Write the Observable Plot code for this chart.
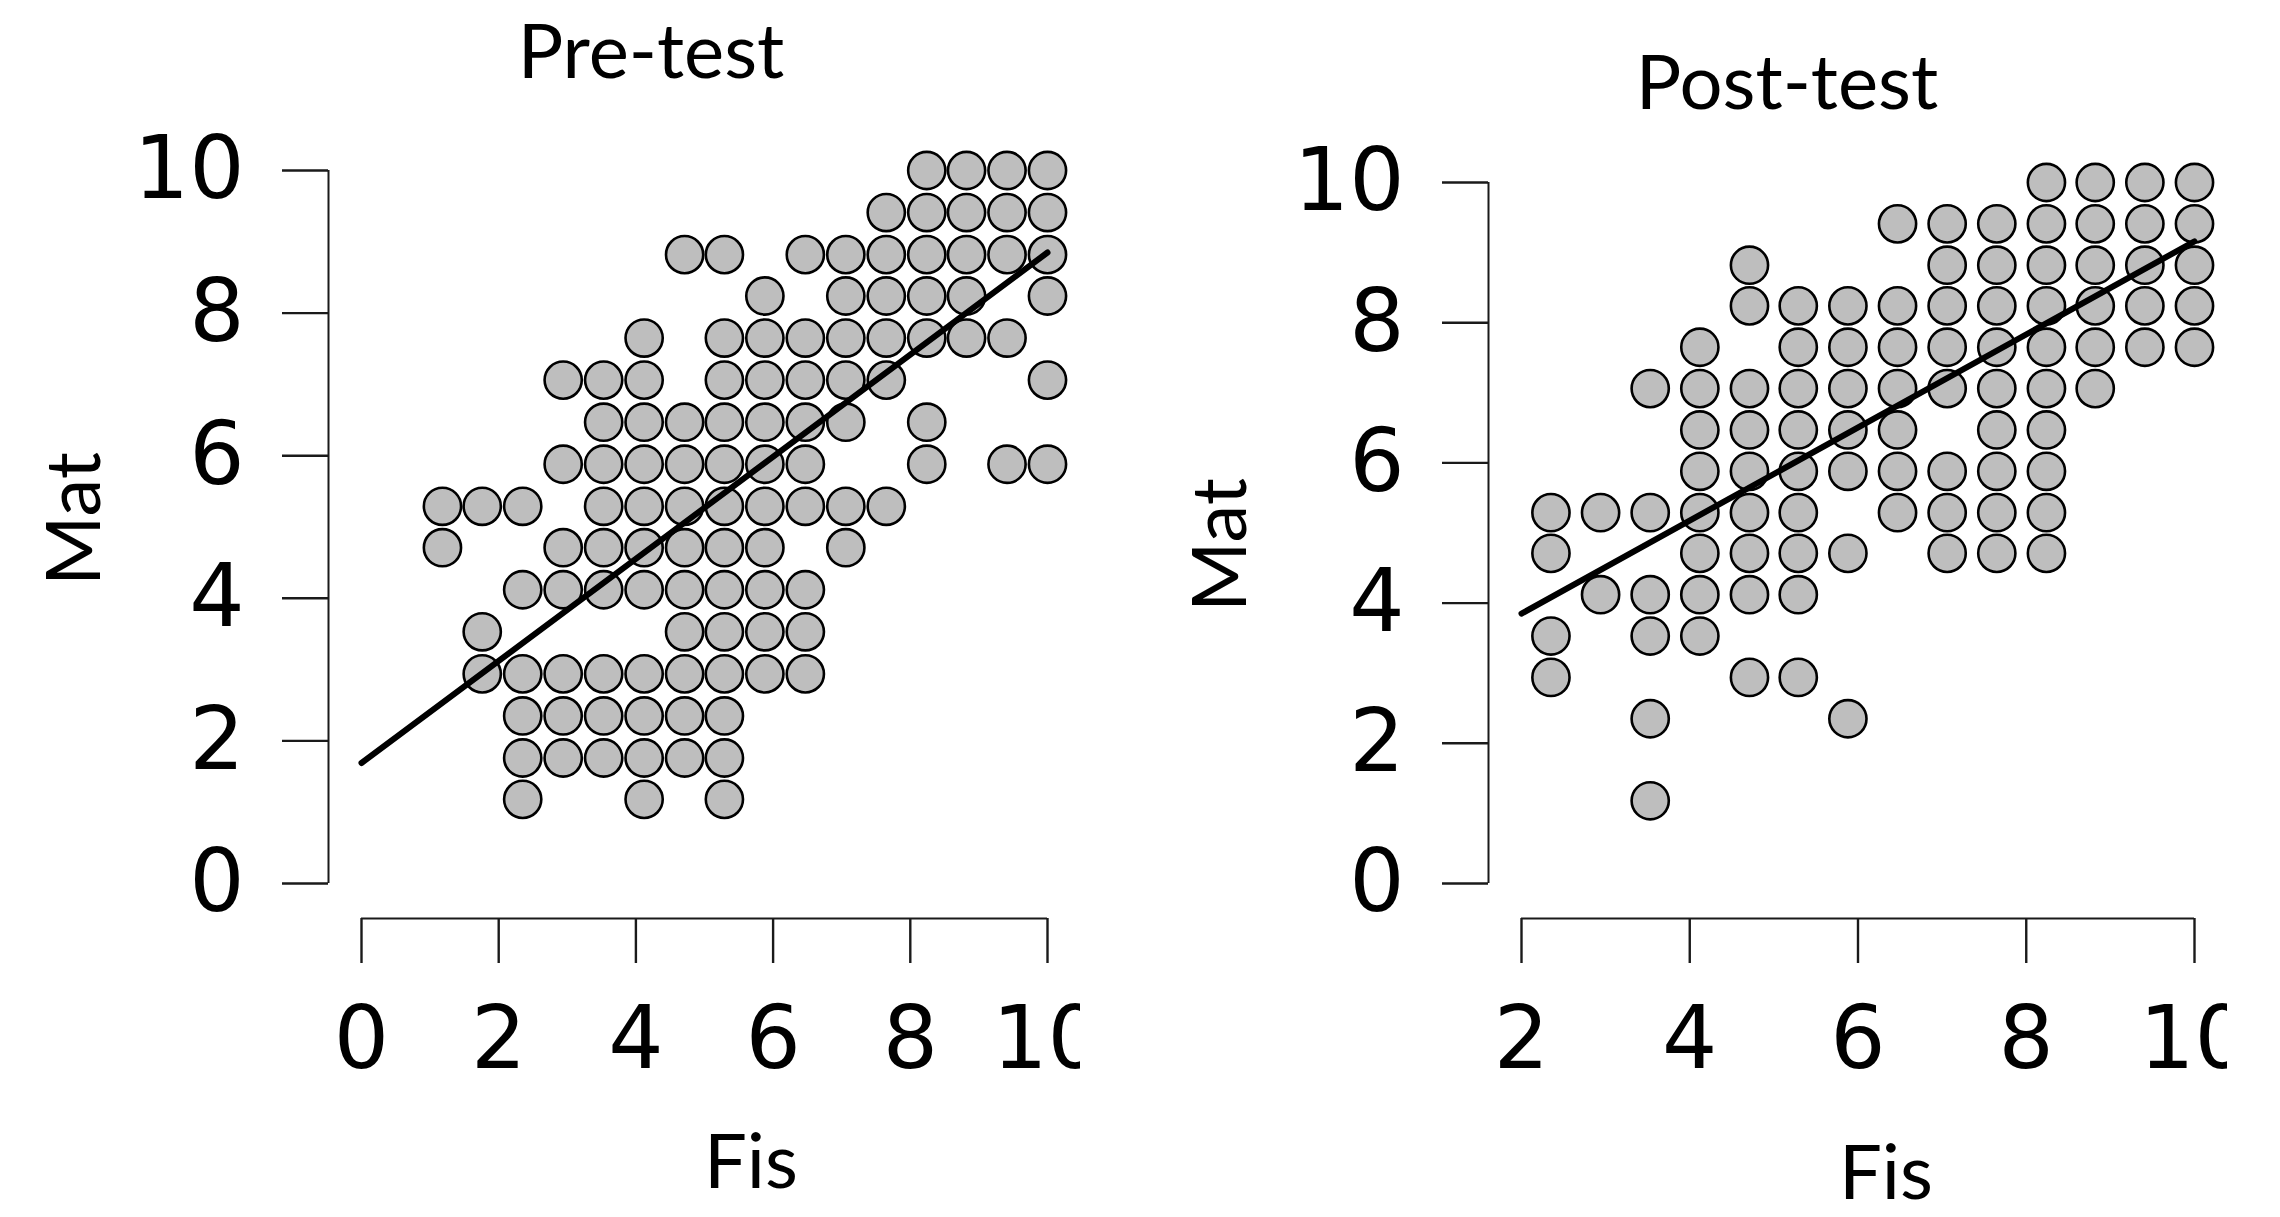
<!DOCTYPE html>
<html><head><meta charset="utf-8">
<script src="https://cdn.jsdelivr.net/npm/d3@7"></script>
<script src="https://cdn.jsdelivr.net/npm/@observablehq/plot@0.6"></script>
<style>
html,body{margin:0;padding:0;background:#fff;width:2280px;height:1217px;overflow:hidden;}
#root{position:relative;width:2280px;height:1217px;background:#fff;}
.panel{position:absolute;top:0;height:1217px;overflow:hidden;}
</style></head><body><div id="root"></div>
<script>
// ---------- data ----------
const preTitle = "Pre-test";
const postTitle = "Post-test";
const xLabel = "Fis";
const yLabel = "Mat";
const yTicks = [0, 2, 4, 6, 8, 10];
const preXTicks = [0, 2, 4, 6, 8, 10];
const postXTicks = [2, 4, 6, 8, 10];

// Mat levels (rows) and the Fis values observed in each row
const preMatRows = [10, 9.41, 8.82, 8.24, 7.65, 7.06, 6.47, 5.88, 5.29, 4.71, 4.12, 3.53, 2.94, 2.35, 1.76, 1.18];
const preFisByRow = [
  [8.24, 8.82, 9.41, 10],
  [7.65, 8.24, 8.82, 9.41, 10],
  [4.71, 5.29, 6.47, 7.06, 7.65, 8.24, 8.82, 9.41, 10],
  [5.88, 7.06, 7.65, 8.24, 8.82, 10],
  [4.12, 5.29, 5.88, 6.47, 7.06, 7.65, 8.24, 8.82, 9.41],
  [2.94, 3.53, 4.12, 5.29, 5.88, 6.47, 7.06, 7.65, 10],
  [3.53, 4.12, 4.71, 5.29, 5.88, 6.47, 7.06, 8.24],
  [2.94, 3.53, 4.12, 4.71, 5.29, 5.88, 6.47, 8.24, 9.41, 10],
  [1.18, 1.76, 2.35, 3.53, 4.12, 4.71, 5.29, 5.88, 6.47, 7.06, 7.65],
  [1.18, 2.94, 3.53, 4.12, 4.71, 5.29, 5.88, 7.06],
  [2.35, 2.94, 3.53, 4.12, 4.71, 5.29, 5.88, 6.47],
  [1.76, 4.71, 5.29, 5.88, 6.47],
  [1.76, 2.35, 2.94, 3.53, 4.12, 4.71, 5.29, 5.88, 6.47],
  [2.35, 2.94, 3.53, 4.12, 4.71, 5.29],
  [2.35, 2.94, 3.53, 4.12, 4.71, 5.29],
  [2.35, 4.12, 5.29]
];
const postMatRows = [10, 9.41, 8.82, 8.24, 7.65, 7.06, 6.47, 5.88, 5.29, 4.71, 4.12, 3.53, 2.94, 2.35, 1.18];
const postFisByRow = [
  [8.24, 8.82, 9.41, 10],
  [6.47, 7.06, 7.65, 8.24, 8.82, 9.41, 10],
  [4.71, 7.06, 7.65, 8.24, 8.82, 9.41, 10],
  [4.71, 5.29, 5.88, 6.47, 7.06, 7.65, 8.24, 8.82, 9.41, 10],
  [4.12, 5.29, 5.88, 6.47, 7.06, 7.65, 8.24, 8.82, 9.41, 10],
  [3.53, 4.12, 4.71, 5.29, 5.88, 6.47, 7.06, 7.65, 8.24, 8.82],
  [4.12, 4.71, 5.29, 5.88, 6.47, 7.65, 8.24],
  [4.12, 4.71, 5.29, 5.88, 6.47, 7.06, 7.65, 8.24],
  [2.35, 2.94, 3.53, 4.12, 4.71, 5.29, 6.47, 7.06, 7.65, 8.24],
  [2.35, 4.12, 4.71, 5.29, 5.88, 7.06, 7.65, 8.24],
  [2.94, 3.53, 4.12, 4.71, 5.29],
  [2.35, 3.53, 4.12],
  [2.35, 4.71, 5.29],
  [3.53, 5.88],
  [3.53]
];

// regression line end points
const preFitFis = [0, 10];
const preFitMat = [1.69, 8.85];
const postFitFis = [2, 10];
const postFitMat = [3.85, 9.16];

// ---------- build ----------
function toTable(rows, byRow) {
  return rows.flatMap((m, k) => byRow[k].map(f => ({Fis: f, Mat: m})));
}
function fitTable(xs, ys) { return xs.map((x, i) => ({Fis: x, Mat: ys[i]})); }

const root = document.getElementById("root");

function panel(cfg) {
  const xDomain = [cfg.xTicks[0], cfg.xTicks[cfg.xTicks.length - 1]];
  const axisColor = "#1a1a1a";
  const chart = Plot.plot({
    width: cfg.width,
    height: 1217,
    marginLeft: cfg.marginLeft,
    marginRight: cfg.marginRight,
    marginTop: cfg.marginTop,
    marginBottom: 334,
    x: {domain: xDomain},
    y: {domain: [0, 10]},
    style: {fontFamily: "'DejaVu Sans', sans-serif", fontSize: "86px", color: "#000", background: "transparent", overflow: "hidden"},
    marks: [
      Plot.ruleX([xDomain[0]], {y1: 0, y2: 10, dx: -33, stroke: axisColor, strokeWidth: 2}),
      Plot.axisY({ticks: yTicks, anchor: "left", tickSize: 46, tickPadding: 38, dx: -33, stroke: axisColor, strokeWidth: 2.4, fontSize: 87, label: null, tickFormat: d => String(d)}),
      Plot.ruleY([0], {x1: xDomain[0], x2: xDomain[1], dy: 35, stroke: axisColor, strokeWidth: 2}),
      Plot.axisX({ticks: cfg.xTicks, anchor: "bottom", tickSize: 45, tickPadding: 43, dy: 35, stroke: axisColor, strokeWidth: 2.4, fontSize: 87, label: null, tickFormat: d => String(d)}),
      Plot.dot(cfg.data, {x: "Fis", y: "Mat", r: 18.6, fill: "#BEBEBE", stroke: "#000", strokeWidth: 2.6}),
      Plot.line(cfg.fit, {x: "Fis", y: "Mat", stroke: "#000", strokeWidth: 6})
    ]
  });
  const svg = d3.select(chart);
  const font = "Lato, 'Noto Sans', sans-serif";
  svg.append("text").text(cfg.title)
    .attr("x", cfg.titleX - cfg.left).attr("y", cfg.titleY)
    .attr("text-anchor", "middle").attr("font-family", font).attr("font-size", 76).attr("fill", "#000");
  svg.append("text").text(xLabel)
    .attr("x", cfg.fisX - cfg.left).attr("y", cfg.fisY)
    .attr("text-anchor", "middle").attr("font-family", font).attr("font-size", 76).attr("fill", "#000");
  svg.append("text").text(yLabel)
    .attr("transform", `translate(${cfg.matX - cfg.left},${cfg.matY}) rotate(-90)`)
    .attr("dy", "0.36em")
    .attr("text-anchor", "middle").attr("font-family", font).attr("font-size", 76).attr("fill", "#000");
  const div = document.createElement("div");
  div.className = "panel";
  div.style.left = cfg.left + "px";
  div.style.width = cfg.width + "px";
  div.appendChild(chart);
  root.appendChild(div);
}

panel({
  data: toTable(preMatRows, preFisByRow),
  fit: fitTable(preFitFis, preFitMat),
  xTicks: preXTicks,
  left: 0, width: 1080, marginLeft: 361, marginRight: 33, marginTop: 170,
  title: preTitle, titleX: 651, titleY: 78,
  fisX: 751, fisY: 1188,
  matX: 73, matY: 519
});
panel({
  data: toTable(postMatRows, postFisByRow),
  fit: fitTable(postFitFis, postFitMat),
  xTicks: postXTicks,
  left: 1140, width: 1087, marginLeft: 381, marginRight: 33, marginTop: 182,
  title: postTitle, titleX: 1787, titleY: 109,
  fisX: 1886, fisY: 1199,
  matX: 1219, matY: 545
});
</script>
</body></html>
